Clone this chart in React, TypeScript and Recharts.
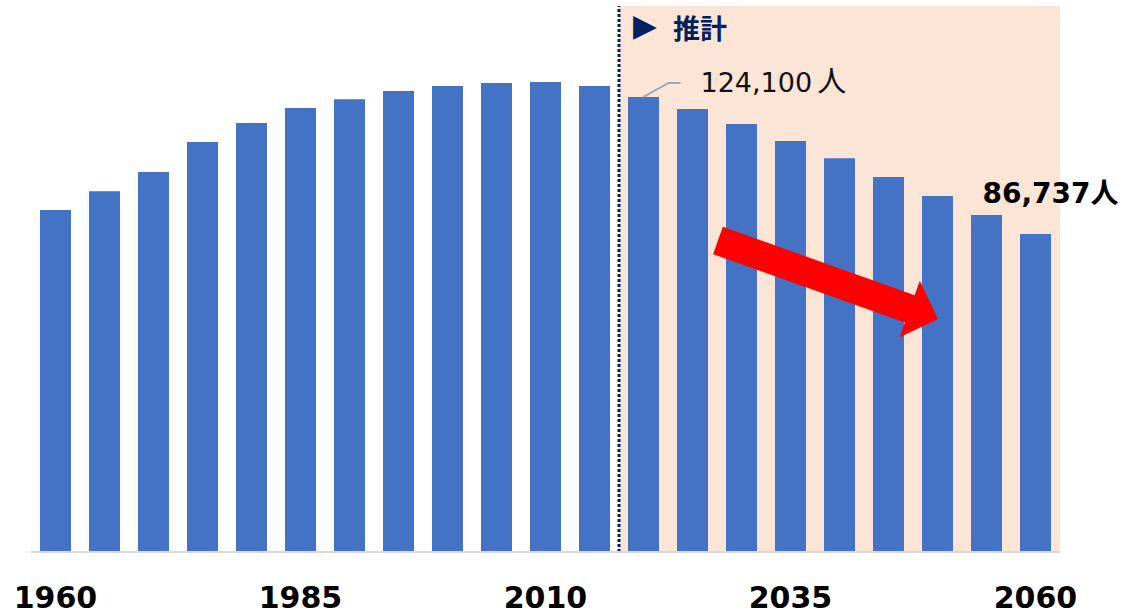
import React from 'react';
import { BarChart, Bar, XAxis, YAxis, ReferenceArea, ReferenceLine, LabelList } from 'recharts';

const years = [
  '1960', '1965', '1970', '1975', '1980', '1985', '1990', '1995', '2000', '2005', '2010',
  '2015', '2020', '2025', '2030', '2035', '2040', '2045', '2050', '2055', '2060',
];
const population = [
  93300, 98400, 103600, 111800, 117000, 121100, 123500, 125700, 127100, 127900, 128200,
  127100, 124100, 120800, 116700, 112100, 107400, 102300, 97100, 91900, 86737,
];
const forecastStart = '2020';
const forecastEnd = '2060';
const forecastTitle = '推計';
const calloutYears = ['2020', '2060'];
// arrow drawn on a hidden numeric year axis
const arrowFrom = { year: 2027.6, value: 84950 };
const arrowTo = { year: 2050.05, value: 63540 };

const data = years.map((year, i) => ({ year, yearNum: Number(year), population: population[i] }));

const FONT = "'DejaVu Sans', 'Noto Sans CJK JP', sans-serif";
const NAVY = '#002060';

function ForecastLabel(props: any) {
  const vb = props.viewBox || { x: 0, y: 0 };
  return (
    <g>
      <text x={vb.x + 14} y={vb.y + 30} fontSize={31} fontFamily={FONT} fill={NAVY}>
        ▶
      </text>
      <text x={vb.x + 54} y={vb.y + 33} fontSize={27} fontWeight="bold" fontFamily={FONT} fill={NAVY}>
        {forecastTitle}
      </text>
    </g>
  );
}

function Callout(props: any) {
  const { x, y, width, value, index } = props;
  const year = years[index];
  if (!calloutYears.includes(year)) return null;
  const cx = x + width / 2;
  const txt = Number(value).toLocaleString('en-US');
  if (year === '2020') {
    return (
      <g>
        <polyline
          points={`${cx},${y} ${cx + 25},${y - 14} ${cx + 37},${y - 14}`}
          fill="none"
          stroke="#a6a6a6"
          strokeWidth={2}
        />
        <text x={cx + 57} y={y - 5} fontSize={27} fontFamily={FONT} fill="#111">
          {txt}
          <tspan dx={5} fontSize={29}>人</tspan>
        </text>
      </g>
    );
  }
  return (
    <text x={cx - 53} y={y - 31} fontSize={28} fontWeight="bold" fontFamily={FONT} fill="#000">
      {txt}人
    </text>
  );
}

function arrowShape(props: any) {
  const { x1, y1, x2, y2 } = props;
  if ([x1, y1, x2, y2].some((v) => v == null || isNaN(v))) return <g />;
  const dx = x2 - x1;
  const dy = y2 - y1;
  const len = Math.sqrt(dx * dx + dy * dy);
  const ux = dx / len;
  const uy = dy / len;
  const nx = -uy;
  const ny = ux;
  const shaft = 14.5;
  const head = 30;
  const headLen = 30;
  const bx = x2 - ux * headLen;
  const by = y2 - uy * headLen;
  const pts = [
    [x1 + nx * shaft, y1 + ny * shaft],
    [bx + nx * shaft, by + ny * shaft],
    [bx + nx * head, by + ny * head],
    [x2, y2],
    [bx - nx * head, by - ny * head],
    [bx - nx * shaft, by - ny * shaft],
    [x1 - nx * shaft, y1 - ny * shaft],
  ];
  return <polygon points={pts.map((p) => p.join(',')).join(' ')} fill="#ff0000" />;
}

export default function App() {
  return (
    <div style={{ position: 'absolute', left: 0, top: 0, width: 1125, height: 616, background: '#fff' }}>
      <BarChart
        width={1125}
        height={616}
        data={data}
        margin={{ top: 6, right: 65, left: 31, bottom: 4 }}
        barSize={31}
      >
        <XAxis
          dataKey="year"
          interval={4}
          height={60}
          tickLine={false}
          axisLine={{ stroke: '#d9d9d9', strokeWidth: 2 }}
          tickMargin={29}
          tick={{ fontSize: 30, fontWeight: 'bold', fill: '#000', fontFamily: FONT }}
        />
        <XAxis
          xAxisId="num"
          dataKey="yearNum"
          type="number"
          domain={[1957.5, 2062.5]}
          allowDataOverflow
          hide
        />
        <YAxis hide domain={[0, 148900]} allowDataOverflow />
        <ReferenceArea
          x1={forecastStart}
          x2={forecastEnd}
          fill="#fbe5d6"
          fillOpacity={1}
          stroke="none"
          label={<ForecastLabel />}
        />
        <Bar dataKey="population" fill="#4472c4" isAnimationActive={false}>
          <LabelList dataKey="population" content={<Callout />} />
        </Bar>
        <ReferenceLine
          x={forecastStart}
          position="start"
          stroke={NAVY}
          strokeWidth={3}
          strokeDasharray="3 2"
        />
        <ReferenceLine
          xAxisId="num"
          segment={[
            { x: arrowFrom.year, y: arrowFrom.value },
            { x: arrowTo.year, y: arrowTo.value },
          ]}
          shape={arrowShape}
          ifOverflow="visible"
        />
      </BarChart>
    </div>
  );
}
